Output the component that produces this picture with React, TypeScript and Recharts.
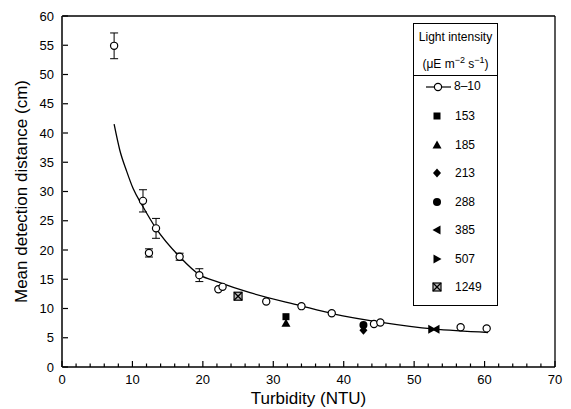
import React from 'react';
import { ComposedChart, Scatter, Line, XAxis, YAxis, ErrorBar, ReferenceLine, Label } from 'recharts';

// open circles, 8-10 µE m-2 s-1
const lowX = [7.4, 11.5, 12.35, 13.35, 16.7, 19.5, 22.2, 22.8, 29.0, 34.0, 38.3, 44.3, 45.2, 56.6, 60.3];
const lowY = [54.9, 28.4, 19.5, 23.7, 18.85, 15.7, 13.3, 13.7, 11.2, 10.4, 9.2, 7.35, 7.6, 6.8, 6.6];
const lowErr = [2.2, 1.9, 0.7, 1.7, 0.6, 1.1, 0, 0, 0, 0, 0, 0, 0, 0, 0];

// higher light intensities, one point each
const highLabels = ['153', '185', '213', '288', '385', '507', '1249'];
const highX = [31.8, 31.8, 42.8, 42.8, 53.1, 52.5, 25.0];
const highY = [8.6, 7.5, 6.3, 7.2, 6.45, 6.45, 12.1];

// fitted curve
const fitX = [7.4, 8.2, 9.2, 10.1, 11.5, 13.35, 16.7, 19.6, 22.0, 26.7, 33.8, 38.5, 45.6, 52.7, 60.5];
const fitY = [41.5, 37.1, 33.4, 30.5, 27.4, 23.7, 18.85, 15.7, 14.6, 12.7, 10.5, 9.1, 7.6, 6.5, 5.9];

const xTicks = [0, 2, 4, 6, 8, 10, 12, 14, 16, 18, 20, 22, 24, 26, 28, 30, 32, 34, 36, 38, 40, 42, 44, 46, 48, 50, 52, 54, 56, 58, 60, 62, 64, 66, 68, 70];
const yTicks = [0, 5, 10, 15, 20, 25, 30, 35, 40, 45, 50, 55, 60];

const FONT = '"Liberation Sans", Arial, Helvetica, sans-serif';
const TICK_GAP = 8;

const lowData = lowX.map((x, i) => ({ x, y: lowY[i], err: lowErr[i] }));
const fitData = fitX.map((x, i) => ({ x, y: fitY[i] }));

type Sym = (cx: number, cy: number) => React.ReactElement;

const symbols: Record<string, Sym> = {
  '153': (cx, cy) => <rect x={cx - 3.5} y={cy - 3.5} width={7} height={7} fill="#000" />,
  '185': (cx, cy) => <polygon points={`${cx},${cy - 4.5} ${cx + 4.5},${cy + 3.5} ${cx - 4.5},${cy + 3.5}`} fill="#000" />,
  '213': (cx, cy) => <polygon points={`${cx},${cy - 4.5} ${cx + 4},${cy} ${cx},${cy + 4.5} ${cx - 4},${cy}`} fill="#000" />,
  '288': (cx, cy) => <circle cx={cx} cy={cy} r={4} fill="#000" />,
  '385': (cx, cy) => <polygon points={`${cx - 4.5},${cy} ${cx + 3.5},${cy - 4.5} ${cx + 3.5},${cy + 4.5}`} fill="#000" />,
  '507': (cx, cy) => <polygon points={`${cx + 4.5},${cy} ${cx - 3.5},${cy - 4.5} ${cx - 3.5},${cy + 4.5}`} fill="#000" />,
  '1249': (cx, cy) => (
    <g stroke="#000" strokeWidth={1.2}>
      <rect x={cx - 4} y={cy - 4} width={8} height={8} fill="#bbb" />
      <line x1={cx - 4} y1={cy - 4} x2={cx + 4} y2={cy + 4} />
      <line x1={cx + 4} y1={cy - 4} x2={cx - 4} y2={cy + 4} />
    </g>
  ),
};

const openCircle: Sym = (cx, cy) => <circle cx={cx} cy={cy} r={3.6} fill="#fff" stroke="#000" strokeWidth={1.2} />;

const XTick = (props: any) => {
  const { x, y, payload } = props;
  const major = payload.value % 10 === 0;
  const axisY = y - TICK_GAP;
  return (
    <g>
      <line x1={x} x2={x} y1={axisY} y2={axisY - (major ? 6 : 3.5)} stroke="#000" strokeWidth={1.2} />
      {major && (
        <text x={x} y={y} dy="0.71em" textAnchor="middle" fontSize={13} fontFamily={FONT} fill="#000">
          {payload.value}
        </text>
      )}
    </g>
  );
};

const YTick = (props: any) => {
  const { x, y, payload } = props;
  const axisX = x + TICK_GAP + 1;
  return (
    <g>
      <line x1={axisX} x2={axisX + 5} y1={y} y2={y} stroke="#000" strokeWidth={1.2} />
      <text x={x} y={y} dy="0.355em" textAnchor="end" fontSize={13} fontFamily={FONT} fill="#000">
        {payload.value}
      </text>
    </g>
  );
};

const LegendBox = () => (
  <div
    style={{
      position: 'absolute',
      left: 413,
      top: 23,
      width: 83,
      height: 281,
      border: '1.3px solid #000',
      background: '#fff',
      fontFamily: FONT,
      fontSize: 12,
      color: '#000',
    }}
  >
    <div style={{ textAlign: 'center', lineHeight: '15px', paddingTop: 6 }}>Light intensity</div>
    <div style={{ textAlign: 'center', lineHeight: '15px', paddingTop: 8, height: 22 }}>
      (μE m<sup style={{ fontSize: 9 }}>−2</sup> s<sup style={{ fontSize: 9 }}>−1</sup>)
    </div>
    <div style={{ borderTop: '1.3px solid #000' }} />
    <div style={{ position: 'relative', height: 22 }}>
      <svg width={40} height={22} style={{ position: 'absolute', left: 10, top: 0 }}>
        <line x1={2} x2={27} y1={11} y2={11} stroke="#000" strokeWidth={1.2} />
        {openCircle(14, 11)}
      </svg>
      <span style={{ position: 'absolute', left: 40, top: 3 }}>8–10</span>
    </div>
    {highLabels.map((name) => (
      <div key={name} style={{ position: 'relative', height: 28.5 }}>
        <svg width={20} height={20} style={{ position: 'absolute', left: 13, top: 8 }}>
          {symbols[name](10, 10)}
        </svg>
        <span style={{ position: 'absolute', left: 41, top: 11 }}>{name}</span>
      </div>
    ))}
  </div>
);

export default function App() {
  return (
    <div style={{ position: 'absolute', left: 0, top: 0, width: 571, height: 409, background: '#fff' }}>
      <ComposedChart width={571} height={409} margin={{ top: 16, right: 16, bottom: 0, left: 0 }}>
        <XAxis
          type="number"
          dataKey="x"
          domain={[0, 70]}
          ticks={xTicks}
          interval={0}
          tickSize={0}
          tickMargin={TICK_GAP}
          tick={<XTick />}
          axisLine={{ stroke: '#000', strokeWidth: 1.5 }}
          height={42}
        >
          <Label
            content={({ viewBox }: any) => (
              <text
                x={viewBox.x + viewBox.width / 2}
                y={viewBox.y + 37}
                textAnchor="middle"
                fontSize={17}
                fontFamily={FONT}
                fill="#000"
              >
                Turbidity (NTU)
              </text>
            )}
          />
        </XAxis>
        <YAxis
          type="number"
          domain={[0, 60]}
          ticks={yTicks}
          interval={0}
          tickSize={0}
          tickMargin={TICK_GAP}
          tick={<YTick />}
          axisLine={{ stroke: '#000', strokeWidth: 1.5 }}
          width={62}
        >
          <Label
            content={({ viewBox }: any) => {
              const cx = viewBox.x + 21;
              const cy = viewBox.y + viewBox.height / 2;
              return (
                <text
                  x={cx}
                  y={cy}
                  transform={`rotate(-90 ${cx} ${cy})`}
                  textAnchor="middle"
                  dominantBaseline="central"
                  fontSize={17}
                  fontFamily={FONT}
                  fill="#000"
                >
                  Mean detection distance (cm)
                </text>
              );
            }}
          />
        </YAxis>
        <ReferenceLine y={60} stroke="#000" strokeWidth={1.3} ifOverflow="extendDomain" />
        <ReferenceLine x={70} stroke="#000" strokeWidth={1.3} ifOverflow="extendDomain" />
        <Line
          data={fitData}
          dataKey="y"
          type="monotone"
          stroke="#000"
          strokeWidth={1.3}
          dot={false}
          activeDot={false}
          isAnimationActive={false}
        />
        <Scatter
          data={lowData}
          dataKey="y"
          isAnimationActive={false}
          shape={(p: any) => openCircle(p.cx, p.cy)}
        >
          <ErrorBar dataKey="err" direction="y" width={4} stroke="#000" strokeWidth={1} />
        </Scatter>
        {highLabels.map((name, i) => (
          <Scatter
            key={name}
            name={name}
            data={[{ x: highX[i], y: highY[i] }]}
            dataKey="y"
            isAnimationActive={false}
            shape={(p: any) => symbols[name](p.cx, p.cy)}
          />
        ))}
      </ComposedChart>
      <LegendBox />
    </div>
  );
}
